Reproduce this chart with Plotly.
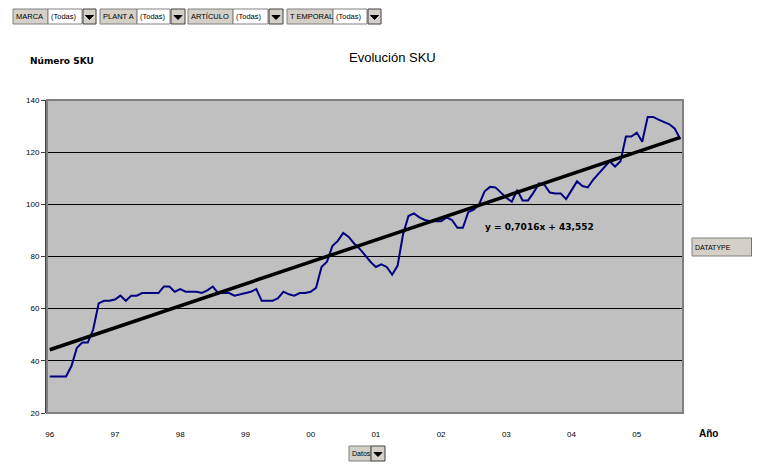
import plotly.graph_objects as go

# ---- data ----
sku_values = [34, 34, 34, 34, 38, 45, 47, 47, 52, 62, 63, 63, 63.5, 65, 63, 65, 65, 66, 66, 66,
              66, 68.5, 68.5, 66.5, 67.5, 66.5, 66.5, 66.5, 66, 67, 68.5, 66, 66, 66, 65, 65.5, 66, 66.5, 67.5, 63,
              63, 63, 64, 66.5, 65.5, 65, 66, 66, 66.5, 68, 76, 78, 84, 86, 89, 87.5, 85, 83, 80.5, 78,
              76, 77, 76, 73, 76.5, 88.5, 95.5, 96.5, 95, 94, 93.5, 93.5, 93.5, 95, 94, 91, 91, 97, 98, 100,
              105, 106.7, 106.5, 104.5, 102.5, 101, 105.5, 101.5, 101.5, 104.5, 108, 107.5, 104.5, 104.2, 104.2, 102, 105.5, 108.8, 107, 106.5,
              109.5, 111.8, 114, 116.5, 114.5, 116.5, 126, 126, 127.5, 124, 133.5, 133.5, 132.5, 131.5, 130.7, 129, 125]
month_index = list(range(1, len(sku_values) + 1))
year_labels = ["96", "97", "98", "99", "00", "01", "02", "03", "04", "05"]
year_tick_index = [1 + 12 * k for k in range(len(year_labels))]
trend_slope = 0.7016
trend_intercept = 43.552
trend_label = "y = 0,7016x + 43,552"
filter_fields = ["MARCA", "PLANT A", "ARTÍCULO", "T EMPORAL"]
filter_values = ["(Todas)", "(Todas)", "(Todas)", "(Todas)"]

trend_y = [trend_slope * i + trend_intercept for i in month_index]

OFF = 8  # page body margin
W, H = 760 - OFF, 464 - OFF
# plot area in page pixels
L, R, T, B = 47, 683, 100, 413
FONT = "Arial, Liberation Sans, sans-serif"


def px(x):
    return (x - L) / (R - L)


def py(y):
    return (B - y) / (B - T)


fig = go.Figure()
fig.add_trace(go.Scatter(x=month_index, y=sku_values, mode="lines",
                         line=dict(color="#000080", width=2), hoverinfo="skip", showlegend=False))
fig.add_trace(go.Scatter(x=month_index, y=trend_y, mode="lines",
                         line=dict(color="#000000", width=3.5), hoverinfo="skip", showlegend=False))

shapes = []
annotations = []

shapes.append(dict(type="rect", xref="paper", yref="paper", x0=0, x1=1, y0=0, y1=1,
                   line=dict(color="#808080", width=2), layer="above"))


def button(x0, x1, y0, y1, text, fill="#D4D0C8", size=8):
    shapes.append(dict(type="rect", xref="paper", yref="paper", x0=px(x0), x1=px(x1), y0=py(y1), y1=py(y0),
                       fillcolor=fill, line=dict(color="#808080", width=1), layer="above"))
    if text:
        annotations.append(dict(xref="paper", yref="paper", x=px(x0 + 1), y=py((y0 + y1) / 2),
                                xanchor="left", yanchor="middle", text=text, showarrow=False,
                                font=dict(family=FONT, size=size, color="#000000")))


def arrow(x0, x1, y0, y1):
    shapes.append(dict(type="rect", xref="paper", yref="paper", x0=px(x0), x1=px(x1), y0=py(y1), y1=py(y0),
                       fillcolor="#D4D0C8", line=dict(color="#404040", width=1), layer="above"))
    cx = (x0 + x1) / 2
    cy = (y0 + y1) / 2
    path = "M {} {} L {} {} L {} {} Z".format(px(cx - 4), py(cy - 1), px(cx + 4), py(cy - 1), px(cx), py(cy + 3))
    shapes.append(dict(type="path", xref="paper", yref="paper", path=path,
                       fillcolor="#000000", line=dict(color="#000000", width=1), layer="above"))


segments = [(13, 48, 82, 96), (100, 137, 170, 185), (188, 233, 268, 283), (287, 333, 367, 381)]
for (a, b, c, d), fld, val in zip(segments, filter_fields, filter_values):
    button(a, b, 9, 24, fld, size=7.5)
    button(b, c, 9, 24, val, fill="#FFFFFF", size=7.5)
    arrow(c + 1, d, 9, 24)

button(692, 752, 238, 256, "DATATYPE", size=7)
arrow(752, 766, 238, 256)

button(349, 371, 446, 461, "Datos", size=7)
arrow(371, 385, 446, 461)

annotations.append(dict(xref="paper", yref="paper", x=px(392), y=py(57), text="Evolución SKU",
                        showarrow=False, xanchor="center", yanchor="middle",
                        font=dict(family=FONT, size=13, color="#000000")))
annotations.append(dict(xref="paper", yref="paper", x=px(28), y=py(61), text="<b>Número SKU</b>",
                        showarrow=False, xanchor="left", yanchor="middle",
                        font=dict(family="DejaVu Sans, sans-serif", size=9, color="#000000")))
annotations.append(dict(xref="paper", yref="paper", x=px(697), y=py(433), text="<b>Año</b>",
                        showarrow=False, xanchor="left", yanchor="middle",
                        font=dict(family=FONT, size=10, color="#000000")))
annotations.append(dict(xref="paper", yref="paper", x=px(483), y=py(227), text="<b>" + trend_label + "</b>",
                        showarrow=False, xanchor="left", yanchor="middle",
                        font=dict(family="DejaVu Sans, sans-serif", size=9, color="#000000")))

fig.update_layout(
    width=W, height=H,
    margin=dict(l=L - OFF, r=760 - R, t=T - OFF, b=464 - B, pad=0),
    paper_bgcolor="#FFFFFF", plot_bgcolor="#C0C0C0",
    shapes=shapes, annotations=annotations,
    xaxis=dict(range=[0.5, len(sku_values) + 0.5], tickmode="array", tickvals=year_tick_index,
               ticktext=year_labels, showgrid=False, zeroline=False, showline=False,
               ticks="outside", ticklen=13, tickcolor="rgba(0,0,0,0)",
               tickfont=dict(family="Liberation Sans Narrow, Arial Narrow, " + FONT, size=8, color="#000000")),
    yaxis=dict(range=[20, 140], dtick=20, showgrid=True, gridcolor="#000000", gridwidth=1,
               zeroline=False, showline=True, linecolor="#404040", linewidth=2,
               ticks="outside", ticklen=4, tickcolor="#404040",
               tickfont=dict(family=FONT, size=8, color="#000000")),
    showlegend=False,
)

fig.write_html("out.html")
